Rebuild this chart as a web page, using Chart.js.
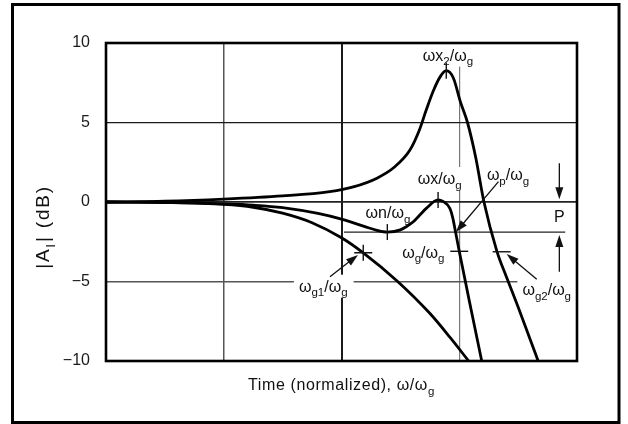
<!DOCTYPE html>
<html>
<head>
<meta charset="utf-8">
<title>|AI| vs normalized frequency</title>
<script src="https://cdn.jsdelivr.net/npm/chart.js@4.4.1/dist/chart.umd.min.js"></script>
<style>
  html, body { margin: 0; padding: 0; background: #fff; }
  #wrap { width: 628px; height: 424px; }
</style>
</head>
<body>
<div id="wrap"><canvas id="gainChart" width="628" height="424"></canvas></div>
<script>
// DATA (x = ω/ωg on a log axis, y = |AI| in dB)
const upperW  = [0.001, 0.00316, 0.01, 0.0316, 0.0794, 0.126, 0.2, 0.282, 0.38, 0.457, 0.525, 0.603, 0.692, 0.776, 0.891, 1.023, 1.175, 1.38, 1.622, 2.089, 2.512, 3.162, 3.981, 4.677];
const upperDb = [0, 0.05, 0.18, 0.38, 0.65, 0.95, 1.5, 2.2, 3.25, 4.5, 5.8, 7.0, 7.9, 8.26, 7.8, 6.3, 5.0, 2.8, 0, -3.1, -4.7, -6.6, -8.6, -10];

const middleW  = [0.001, 0.00316, 0.01, 0.0178, 0.0316, 0.0631, 0.1, 0.158, 0.2, 0.245, 0.316, 0.407, 0.525, 0.661, 0.733, 0.832, 0.881, 0.923, 1.0, 1.259, 1.552];
const middleDb = [0, -0.02, -0.12, -0.2, -0.35, -0.72, -1.08, -1.55, -1.78, -1.89, -1.75, -1.24, -0.4, 0.13, 0.02, -0.4, -1.0, -1.76, -3.1, -6.75, -10];

const lowerW  = [0.001, 0.00316, 0.01, 0.0178, 0.0316, 0.0562, 0.1, 0.153, 0.295, 0.562, 0.832, 1.202];
const lowerDb = [0, -0.03, -0.15, -0.33, -0.7, -1.3, -2.25, -3.2, -4.95, -7.0, -8.5, -10];

const xGrid = [0.001, 0.01, 0.1, 1, 10];
const yTickValues = [10, 5, 0, -5, -10];
const yTickLabels = ["10", "5", "0", "\u22125", "\u221210"];

// P band reference level
const pBandW = [0.105, 7.94];
const pBandDb = -1.89;

// text notes
const noteText = ["ωx_2/ω_g", "ωx/ω_g", "ω_p/ω_g", "ωn/ω_g", "ω_g/ω_g", "ω_{g1}/ω_g", "ω_{g2}/ω_g", "P"];
const noteW    = [0.802, 0.682, 2.594, 0.248, 0.495, 0.070, 5.53, 7.08];
const noteDb   = [8.89, 1.13, 1.38, -1.03, -3.5, -5.64, -5.85, -1.28];
const noteBg   = [true, true, false, false, false, true, true, false];

// tick marks on the curves
const markW    = [0.776, 0.661, 0.245, 0.153, 1.0, 2.29];
const markDb   = [8.26, 0.13, -1.89, -3.19, -3.1, -3.13];
const markKind = ["v", "v", "v", "+", "h", "h"];

// arrows [w, dB] from -> to
const arrowFrom = [[2.153, 1.28], [0.0798, -4.70], [4.55, -4.86], [7.08, 2.43], [7.08, -4.38]];
const arrowTo   = [[0.938, -1.89], [0.138, -3.33], [2.53, -3.27], [7.08, 0.17], [7.08, -2.07]];

const FONT = "'Liberation Sans', Arial, sans-serif";
Chart.defaults.font.family = FONT;

const toPoints = (xs, ys) => xs.map((x, i) => ({ x: x, y: ys[i] }));

// "a_b" / "a_{bc}" -> parts with subscripts
function parseRich(str) {
  const parts = [];
  let buf = "";
  let i = 0;
  while (i < str.length) {
    if (str[i] === "_") {
      if (buf) { parts.push({ t: buf, sub: false }); buf = ""; }
      if (str[i + 1] === "{") {
        const end = str.indexOf("}", i);
        parts.push({ t: str.slice(i + 2, end), sub: true });
        i = end + 1;
      } else {
        parts.push({ t: str[i + 1], sub: true });
        i += 2;
      }
    } else {
      buf += str[i];
      i++;
    }
  }
  if (buf) parts.push({ t: buf, sub: false });
  return parts;
}

function richWidth(ctx, parts, size) {
  let w = 0;
  parts.forEach(p => {
    ctx.font = (p.sub ? size * 0.72 : size) + "px " + FONT;
    w += ctx.measureText(p.t).width;
  });
  return w;
}

// centred on cx, baseline at base
function drawRich(ctx, str, cx, base, size) {
  const parts = parseRich(str);
  const w = richWidth(ctx, parts, size);
  let x = cx - w / 2;
  ctx.textAlign = "left";
  ctx.textBaseline = "alphabetic";
  parts.forEach(p => {
    const s = p.sub ? size * 0.72 : size;
    ctx.font = s + "px " + FONT;
    ctx.fillText(p.t, x, p.sub ? base + size * 0.3 : base);
    x += ctx.measureText(p.t).width;
  });
  return w;
}

function arrow(ctx, x1, y1, x2, y2) {
  const head = 12, half = 4;
  const a = Math.atan2(y2 - y1, x2 - x1);
  ctx.beginPath();
  ctx.moveTo(x1, y1);
  ctx.lineTo(x2 - head * 0.8 * Math.cos(a), y2 - head * 0.8 * Math.sin(a));
  ctx.stroke();
  ctx.beginPath();
  ctx.moveTo(x2, y2);
  ctx.lineTo(x2 - head * Math.cos(a) + half * Math.sin(a), y2 - head * Math.sin(a) - half * Math.cos(a));
  ctx.lineTo(x2 - head * Math.cos(a) - half * Math.sin(a), y2 - head * Math.sin(a) + half * Math.cos(a));
  ctx.closePath();
  ctx.fill();
}

// notes + reference line under the curves
const underlay = {
  id: "underlay",
  beforeDatasetsDraw(chart) {
    const { ctx, scales: { x, y } } = chart;
    ctx.save();
    ctx.strokeStyle = "#222";
    ctx.lineWidth = 1.2;
    ctx.beginPath();
    ctx.moveTo(x.getPixelForValue(pBandW[0]), y.getPixelForValue(pBandDb));
    ctx.lineTo(x.getPixelForValue(pBandW[1]), y.getPixelForValue(pBandDb));
    ctx.stroke();

    noteText.forEach((txt, i) => {
      const cx = x.getPixelForValue(noteW[i]);
      const base = y.getPixelForValue(noteDb[i]);
      const w = richWidth(ctx, parseRich(txt), 16);
      if (noteBg[i]) {
        ctx.fillStyle = "#fff";
        ctx.fillRect(cx - w / 2 - 5, base - 17, w + 11, 23);
      }
      ctx.fillStyle = "#111";
      drawRich(ctx, txt, cx, base, 16);
    });
    ctx.restore();
  }
};

// markers, arrows, frame, axis titles on top
const overlay = {
  id: "overlay",
  afterDatasetsDraw(chart) {
    const { ctx, chartArea: ca, scales: { x, y } } = chart;
    ctx.save();
    ctx.strokeStyle = "#111";
    ctx.fillStyle = "#111";
    ctx.lineWidth = 1.4;
    markKind.forEach((k, i) => {
      const px = x.getPixelForValue(markW[i]);
      const py = y.getPixelForValue(markDb[i]);
      ctx.beginPath();
      if (k === "v" || k === "+") { ctx.moveTo(px, py - 8); ctx.lineTo(px, py + 8); }
      if (k === "h" || k === "+") { ctx.moveTo(px - 9, py); ctx.lineTo(px + 9, py); }
      ctx.stroke();
    });

    ctx.lineWidth = 1.3;
    arrowFrom.forEach((f, i) => {
      const t = arrowTo[i];
      arrow(ctx, x.getPixelForValue(f[0]), y.getPixelForValue(f[1]),
                 x.getPixelForValue(t[0]), y.getPixelForValue(t[1]));
    });

    // plot box
    ctx.strokeStyle = "#000";
    ctx.lineWidth = 2.6;
    ctx.strokeRect(ca.left, ca.top, ca.right - ca.left, ca.bottom - ca.top);

    // axis titles
    ctx.fillStyle = "#111";
    ctx.letterSpacing = "0.6px";
    drawRich(ctx, "Time (normalized), ω/ω_g", (ca.left + ca.right) / 2, ca.bottom + 29, 16);
    ctx.save();
    ctx.letterSpacing = "1.8px";
    ctx.translate(ca.left - 57, (ca.top + ca.bottom) / 2 + 25);
    ctx.rotate(-Math.PI / 2);
    drawRich(ctx, "|A_I| (dB)", 0, 0, 19);
    ctx.restore();
    ctx.letterSpacing = "0px";

    // outer frame
    ctx.strokeStyle = "#000";
    ctx.lineWidth = 3;
    ctx.strokeRect(12.5, 4.5, 606.5, 418);
    ctx.restore();
  }
};

const curveStyle = {
  borderColor: "#000",
  borderWidth: 2.8,
  pointRadius: 0,
  fill: false,
  cubicInterpolationMode: "monotone"
};

const xGridColor = { 0.01: "#555", 0.1: "#1a1a1a", 1: "#777" };
const xGridWidth = { 0.01: 1.5, 0.1: 2, 1: 1.2 };
const yGridColor = { 5: "#1a1a1a", 0: "#222", "-5": "#555" };
const yGridWidth = { 5: 1.2, 0: 1.8, "-5": 1.5 };

new Chart(document.getElementById("gainChart"), {
  type: "line",
  data: {
    datasets: [
      Object.assign({ label: "upper", data: toPoints(upperW, upperDb) }, curveStyle),
      Object.assign({ label: "middle", data: toPoints(middleW, middleDb) }, curveStyle),
      Object.assign({ label: "lower", data: toPoints(lowerW, lowerDb) }, curveStyle)
    ]
  },
  options: {
    responsive: false,
    animation: false,
    layout: { padding: { left: 46, right: 51, top: 43, bottom: 63 } },
    plugins: { legend: { display: false }, tooltip: { enabled: false } },
    scales: {
      x: {
        type: "logarithmic",
        min: 0.001,
        max: 10,
        afterBuildTicks: s => { s.ticks = xGrid.map(v => ({ value: v })); },
        afterFit: s => { s.height = 0; },
        ticks: { display: false },
        border: { display: false },
        grid: {
          drawTicks: false,
          color: c => xGridColor[c.tick && c.tick.value] || "rgba(0,0,0,0)",
          lineWidth: c => xGridWidth[c.tick && c.tick.value] || 0
        }
      },
      y: {
        min: -10,
        max: 10,
        afterBuildTicks: s => { s.ticks = yTickValues.map(v => ({ value: v })); },
        afterFit: s => { s.width = 60; },
        ticks: {
          padding: 16,
          color: "#1a1a1a",
          font: { size: 16 },
          callback: v => yTickLabels[yTickValues.indexOf(v)]
        },
        border: { display: false },
        grid: {
          drawTicks: false,
          color: c => yGridColor[c.tick && c.tick.value] || "rgba(0,0,0,0)",
          lineWidth: c => yGridWidth[c.tick && c.tick.value] || 0
        }
      }
    }
  },
  plugins: [underlay, overlay]
});
</script>
</body>
</html>
